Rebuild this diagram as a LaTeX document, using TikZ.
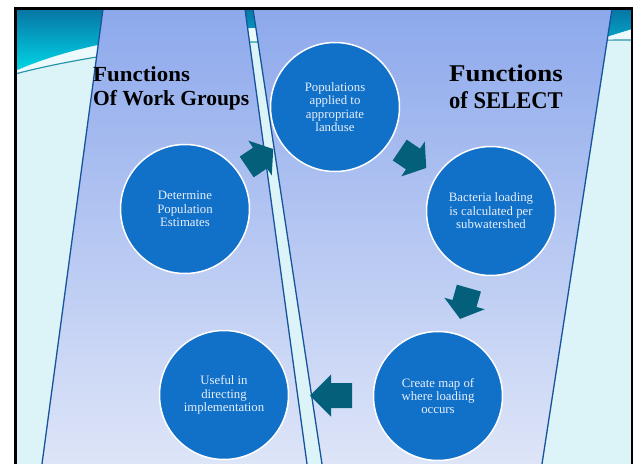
\documentclass[tikz,border=0pt]{standalone}
\usepackage{fontspec}
\usepackage{graphicx}
\setmainfont{Liberation Serif}
\usetikzlibrary{calc}
\definecolor{bgc}{RGB}{220,244,248}
\definecolor{tealA}{RGB}{8,116,164}
\definecolor{tealB}{RGB}{0,214,230}
\definecolor{panelTop}{RGB}{141,169,236}
\definecolor{panelBot}{RGB}{222,229,248}
\definecolor{edgec}{RGB}{22,84,156}
\definecolor{circc}{RGB}{17,112,200}
\definecolor{arrc}{RGB}{4,96,122}
\definecolor{txtc}{RGB}{232,240,252}
\definecolor{linec}{RGB}{40,150,170}
\definecolor{paleband}{RGB}{236,250,252}
\tikzset{
 circnode/.style={circle, minimum size=129pt, inner sep=0pt, fill=circc, draw=white, line width=1.5pt, text=txtc, align=center, font=\fontsize{12.8}{13.4}\selectfont},
 titleA/.style={anchor=base west, inner sep=0pt, font=\fontsize{21.5}{24}\selectfont\bfseries},
 titleB/.style={anchor=base west, inner sep=0pt, font=\fontsize{24}{27}\selectfont\bfseries},
 edgeline/.style={draw=edgec, line width=1.3pt},
 arrowfill/.style={fill=arrc},
}
\newcommand\cyclearrow[4]{%
  \begin{scope}[shift={($(#1)!0.5!(#2)$)}, rotate=#3]
   \fill[arrowfill] ({-#4/2},-12.5) -- (0,-12.5) -- (0,-21) -- ({#4/2},0) -- (0,21) -- (0,12.5) -- ({-#4/2},12.5) -- cycle;
  \end{scope}}
\begin{document}
\begin{tikzpicture}[x=1pt,y=-1pt]
\useasboundingbox (0,0) rectangle (633,464);
% background
\fill[white] (0,0) rectangle (633,464);
\fill[bgc] (15,8) rectangle (632,464);
\fill[paleband] (15,71) .. controls (80,42) and (170,30) .. (250,28) -- (632,28) -- (632,40) -- (250,42) .. controls (150,45) and (60,62) .. (15,74) -- cycle;
\shade[top color=tealA, bottom color=tealB] (15,8) -- (632,8) -- (632,29) -- (606,37) .. controls (500,30) and (350,26) .. (250,28) .. controls (170,30) and (80,42) .. (15,71) -- cycle;
\draw[linec, line width=1.2pt] (15,74) .. controls (60,62) and (150,45) .. (250,42) -- (632,40);
% panels
\shade[top color=panelTop, bottom color=panelBot] (103,9) -- (245,9) -- (307,464) -- (42,464) -- cycle;
\shade[top color=panelTop, bottom color=panelBot] (253,9) -- (612,9) -- (542,464) -- (322,464) -- cycle;
\draw[edgeline] (103,9) -- (42,464);
\draw[edgeline] (245,9) -- (307,464);
\draw[edgeline] (253,9) -- (322,464);
\draw[edgeline] (612,9) -- (542,464);
% titles
\node[titleA] (ta1) at (93,81) {\scalebox{1.066}[1]{Functions}};
\node[titleA] (ta2) at (93,105) {Of Work Groups};
\node[titleB] (tb1) at (449,81) {\scalebox{1.12}[1]{Functions}};
\node[titleB] (tb2) at (449,108) {\scalebox{0.94}[1]{of SELECT}};
% circles
\node[circnode] (c1) at (185,209) {Determine\\Population\\Estimates};
\node[circnode] (c2) at (335,107) {Populations\\applied to\\appropriate\\landuse};
\node[circnode] (c3) at (491,211) {Bacteria loading\\is calculated per\\subwatershed};
\node[circnode] (c4) at (438,396) {Create map of\\where loading\\occurs};
\node[circnode] (c5) at (224,395) {Useful in\\directing\\implementation};
% arrows
\cyclearrow{c1}{c2}{34}{32}
\cyclearrow{c2}{c3}{-34}{32}
\cyclearrow{c3}{c4}{-106}{32}
\cyclearrow{c4}{c5}{180}{42}
% frame
\draw[black, line width=2.5pt] (15.5,8.3) rectangle (632.3,480);
\end{tikzpicture}
\end{document}
